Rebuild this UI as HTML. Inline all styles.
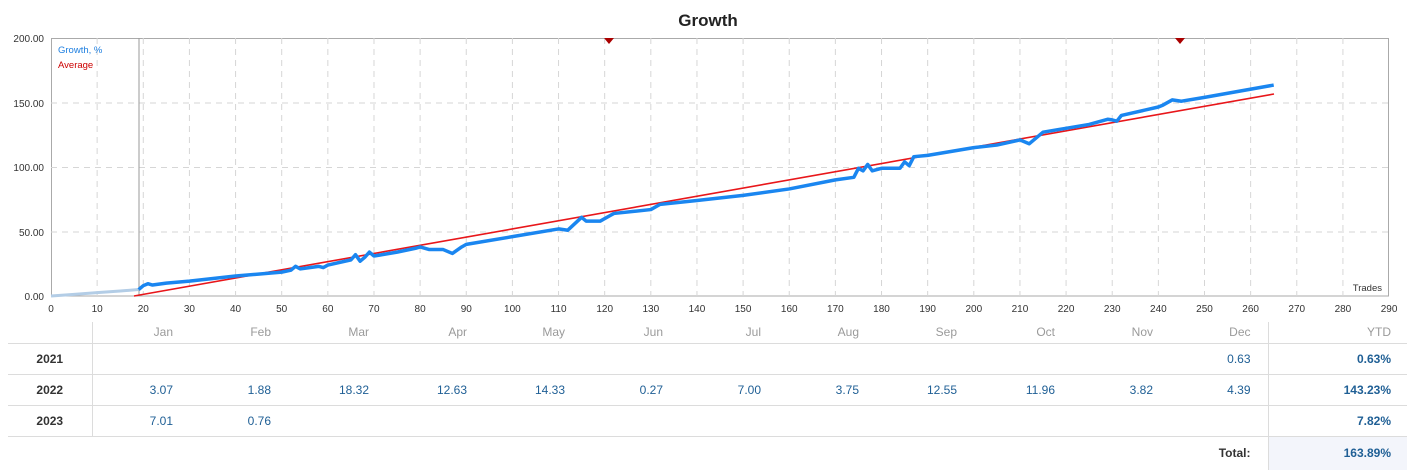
<!DOCTYPE html>
<html><head><meta charset="utf-8"><style>
body{margin:0;background:#fff;font-family:"Liberation Sans","DejaVu Sans",sans-serif;}
.wrap{position:relative;width:1407px;height:470px;overflow:hidden}
table{position:absolute;left:8px;top:322px;border-collapse:collapse;font-size:12px;table-layout:fixed;width:1399px}
td{height:31px;padding:0 17px 0 0;box-sizing:border-box;text-align:right;color:#1f5f95;border-bottom:1px solid #dcdcdc;white-space:nowrap}
tr.h td{height:21px;color:#9a9a9a;font-size:12px}
td.y{width:84px;padding:0;text-align:center;color:#333;font-weight:bold;border-right:1px solid #dcdcdc}
td.m{width:98px}
td.t{width:139px;border-left:1px solid #dcdcdc;padding-right:16px}
</style></head><body><div class="wrap">
<svg width="1407" height="320" style="position:absolute;left:0;top:0" font-family="Liberation Sans, sans-serif">
<text x="708" y="26" text-anchor="middle" font-size="17" font-weight="bold" fill="#222">Growth</text>
<rect x="51.5" y="38.5" width="1337" height="257.5" fill="#fff" stroke="#aaa"/>
<g stroke="#d6d6d6" stroke-dasharray="6,5">
<line x1="51" x2="1389" y1="103" y2="103"/><line x1="51" x2="1389" y1="167.5" y2="167.5"/><line x1="51" x2="1389" y1="232" y2="232"/>
</g>
<g id="vg" stroke="#d6d6d6" stroke-dasharray="6,5"></g>
<line x1="139" y1="38" x2="139" y2="296" stroke="#999"/>
<g font-size="10" fill="#333" text-anchor="end">
<text x="44" y="42">200.00</text><text x="44" y="107">150.00</text><text x="44" y="171">100.00</text><text x="44" y="236">50.00</text><text x="44" y="300">0.00</text>
</g>
<g id="xl" font-size="10" fill="#333" text-anchor="middle"></g>
<text x="58" y="53" font-size="9.5" fill="#1e7fe0">Growth, %</text>
<text x="58" y="68" font-size="9.5" fill="#c00">Average</text>
<text x="1382" y="291" font-size="9.5" fill="#333" text-anchor="end">Trades</text>
<polyline id="lg" fill="none" stroke="#b3cde6" stroke-width="3"/>
<line x1="134" y1="296" x2="1274" y2="94" stroke="#e8161a" stroke-width="1.6"/>
<polyline id="bg" fill="none" stroke="#1a86f0" stroke-width="3.5" stroke-linejoin="round"/>
<polygon points="604,38 614,38 609,44" fill="#a00"/>
<polygon points="1175,38 1185,38 1180,44" fill="#a00"/>
</svg>
<table>
<colgroup><col style="width:84px"><col span="12" style="width:98px"><col style="width:139px"></colgroup>
<tr class="h"><td class="y"></td><td class="m">Jan</td><td class="m">Feb</td><td class="m">Mar</td><td class="m">Apr</td><td class="m">May</td><td class="m">Jun</td><td class="m">Jul</td><td class="m">Aug</td><td class="m">Sep</td><td class="m">Oct</td><td class="m">Nov</td><td class="m">Dec</td><td class="t">YTD</td></tr>
<tr><td class="y">2021</td><td></td><td></td><td></td><td></td><td></td><td></td><td></td><td></td><td></td><td></td><td></td><td>0.63</td><td class="t" style="font-weight:bold">0.63%</td></tr>
<tr><td class="y">2022</td><td>3.07</td><td>1.88</td><td>18.32</td><td>12.63</td><td>14.33</td><td>0.27</td><td>7.00</td><td>3.75</td><td>12.55</td><td>11.96</td><td>3.82</td><td>4.39</td><td class="t" style="font-weight:bold">143.23%</td></tr>
<tr><td class="y">2023</td><td>7.01</td><td>0.76</td><td></td><td></td><td></td><td></td><td></td><td></td><td></td><td></td><td></td><td></td><td class="t" style="font-weight:bold">7.82%</td></tr>
<tr><td style="border:none"></td><td colspan="12" style="border:none;color:#333;font-weight:bold">Total:</td><td class="t" style="border-bottom:none;background:#f3f5fb;font-weight:bold;height:34px">163.89%</td></tr>
</table>
</div>
<script>
var X=t=>51+4.614*t,Y=v=>296-1.29*v;
var vg=document.getElementById('vg'),xl=document.getElementById('xl'),s='',l='';
for(var t=0;t<=290;t+=10){var x=X(t);if(t>0&&t<290)s+='<line x1="'+x+'" x2="'+x+'" y1="38" y2="296"/>';l+='<text x="'+x+'" y="312">'+t+'</text>';}
vg.innerHTML=s;xl.innerHTML=l;
var d=[[19,5],[20,8],[21,9.5],[22,8.5],[25,10],[30,11.5],[40,15.5],[50,18.5],[52,20],[53,23],[54,21],[58,23],[59,22],[60,24],[65,28],[66,32],[67,27],[68,30],[69,34],[70,31],[75,34],[79,37],[80,38],[82,36],[85,36],[87,33],[89,38],[90,40],[100,46],[110,52],[112,51],[115,61],[116,58],[119,58],[121,62],[122,64],[130,67],[132,71],[140,74],[150,78],[160,83],[170,90],[174,92],[175,99],[176,97],[177,102],[178,97],[180,99],[184,99],[185,104],[186,101],[187,108],[190,109],[200,115],[205,117],[210,121],[212,118],[213,121],[215,127],[220,130],[225,133],[229,137],[230,136.5],[231,135.5],[232,140],[240,146.5],[241,148],[243,152],[245,151],[250,154],[265,163.5]];
document.getElementById('bg').setAttribute('points',d.map(p=>X(p[0])+','+Y(p[1])).join(' '));
document.getElementById('lg').setAttribute('points',[[0,0],[5,1.3],[10,2.6],[15,3.9],[19,5]].map(p=>X(p[0])+','+Y(p[1])).join(' '));
</script>
</body></html>
